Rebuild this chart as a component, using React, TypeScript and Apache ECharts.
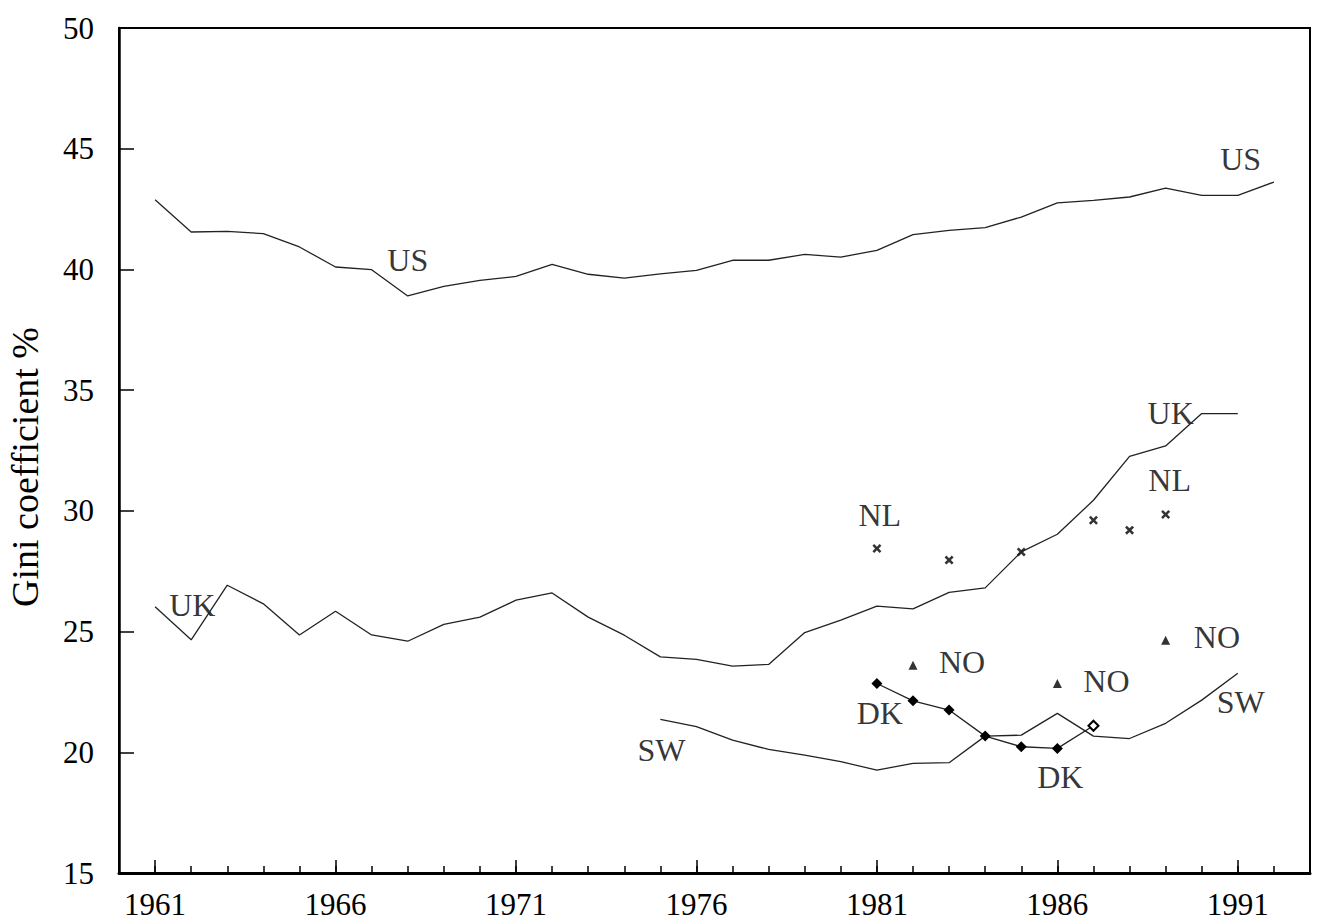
import React, { useEffect, useRef } from "react";
import * as echarts from "echarts";

const FONT = "Liberation Serif";

// US Gini, 1961–1992
const usStartYear = 1961;
const usValues = [42.89, 41.55, 41.58, 41.48, 40.93, 40.1, 39.99, 38.9, 39.3, 39.55, 39.71, 40.21, 39.8, 39.64, 39.82, 39.96, 40.38, 40.38, 40.62, 40.51, 40.79, 41.44, 41.62, 41.73, 42.17, 42.76, 42.86, 43.0, 43.37, 43.07, 43.07, 43.62];

// UK Gini, 1961–1991
const ukStartYear = 1961;
const ukValues = [26.03, 24.66, 26.92, 26.15, 24.86, 25.84, 24.86, 24.6, 25.3, 25.6, 26.3, 26.6, 25.6, 24.85, 23.95, 23.85, 23.57, 23.64, 24.96, 25.47, 26.05, 25.94, 26.62, 26.81, 28.3, 29.03, 30.44, 32.26, 32.69, 34.03, 34.03];

// Sweden, 1975–1991
const swStartYear = 1975;
const swValues = [21.36, 21.06, 20.5, 20.12, 19.88, 19.61, 19.26, 19.54, 19.57, 20.67, 20.71, 21.61, 20.67, 20.57, 21.2, 22.16, 23.27];

// Denmark, 1981–1987
const dkStartYear = 1981;
const dkValues = [22.85, 22.13, 21.75, 20.67, 20.23, 20.16, 21.1];

// Netherlands
const nlYears = [1981, 1983, 1985, 1987, 1988, 1989];
const nlValues = [28.44, 27.96, 28.3, 29.61, 29.2, 29.85];

// Norway
const noYears = [1982, 1986, 1989];
const noValues = [23.61, 22.85, 24.64];

// Text annotations (year, value)
const annotationTexts = ["US", "US", "UK", "UK", "NL", "NL", "NO", "NO", "NO", "DK", "DK", "SW", "SW"];
const annotationYears = [1968.0, 1991.08, 1962.03, 1989.14, 1981.08, 1989.11, 1983.36, 1987.36, 1990.42, 1981.08, 1986.08, 1975.03, 1991.08];
const annotationValues = [40.39, 44.57, 26.1, 34.05, 29.83, 31.28, 23.74, 22.95, 24.77, 21.62, 18.97, 20.09, 22.08];

// X axis categories (one per year, 1960–1993); labels shown every 5 years from 1961
const xYears = ["1960", "1961", "1962", "1963", "1964", "1965", "1966", "1967", "1968", "1969", "1970", "1971", "1972", "1973", "1974", "1975", "1976", "1977", "1978", "1979", "1980", "1981", "1982", "1983", "1984", "1985", "1986", "1987", "1988", "1989", "1990", "1991", "1992", "1993"];
const xTickLabels = ["1961", "1966", "1971", "1976", "1981", "1986", "1991"];

const yAxisTitle = "Gini coefficient %";

const series = (start: number, vals: number[]) => vals.map((v, i) => [start + i, v]);
const pairs = (xs: number[], vals: number[]) => xs.map((x, i) => [x, vals[i]]);

const X_SYMBOL = "path://M0,2 L2,0 L5,3 L8,0 L10,2 L7,5 L10,8 L8,10 L5,7 L2,10 L0,8 L3,5 Z";

export default function App() {
  const ref = useRef<HTMLDivElement>(null);
  useEffect(() => {
    if (!ref.current) return;
    const chart = echarts.init(ref.current, undefined, { renderer: "svg" });
    const lineStyle = { color: "#222", width: 1.3 };
    const isMajor = (i: number) => xTickLabels.indexOf(xYears[i]) >= 0;
    chart.setOption({
      animation: false,
      backgroundColor: "#fff",
      grid: { left: 119, right: 10, top: 28, bottom: 51, show: true, borderColor: "#000", borderWidth: 2, backgroundColor: "transparent" },
      graphic: [
        {
          type: "text", x: 25, y: 467, rotation: Math.PI / 2,
          style: { text: yAxisTitle, fontSize: 38, fontFamily: FONT, fill: "#000", textAlign: "center", textVerticalAlign: "middle" },
        },
      ],
      xAxis: [
        {
          type: "value", min: 1960, max: 1993, interval: 1,
          axisLine: { onZero: false, lineStyle: { color: "#000", width: 3 } },
          axisTick: { inside: true, length: 7, lineStyle: { color: "#000", width: 1.5 } },
          axisLabel: { show: false },
          splitLine: { show: false },
        },
        {
          type: "category", data: xYears, boundaryGap: false, position: "bottom",
          axisLine: { show: false, onZero: false },
          axisTick: { inside: true, length: 13, interval: (i: number) => isMajor(i), lineStyle: { color: "#000", width: 1.5 } },
          axisLabel: {
            interval: (i: number) => isMajor(i),
            fontSize: 31, fontFamily: FONT, color: "#000", margin: 16,
          },
          splitLine: { show: false },
        },
      ],
      yAxis: {
        type: "value", min: 15, max: 50, interval: 5,
        axisLine: { onZero: false, lineStyle: { color: "#000", width: 2.5 } },
        axisTick: { inside: true, length: 15, lineStyle: { color: "#000", width: 1.5 } },
        axisLabel: { fontSize: 31, fontFamily: FONT, color: "#000", margin: 25 },
        splitLine: { show: false },
      },
      series: [
        { name: "US", type: "line", xAxisIndex: 0, data: series(usStartYear, usValues), showSymbol: false, lineStyle },
        { name: "UK", type: "line", xAxisIndex: 0, data: series(ukStartYear, ukValues), showSymbol: false, lineStyle },
        { name: "SW", type: "line", xAxisIndex: 0, data: series(swStartYear, swValues), showSymbol: false, lineStyle },
        {
          name: "DK", type: "line", xAxisIndex: 0, lineStyle, symbol: "diamond", symbolSize: 11,
          itemStyle: { color: "#000" },
          data: series(dkStartYear, dkValues).map((p, i, arr) =>
            i === arr.length - 1
              ? { value: p, symbolSize: 10, itemStyle: { color: "#fff", borderColor: "#000", borderWidth: 2 } }
              : { value: p }
          ),
        },
        { name: "NL", type: "scatter", xAxisIndex: 0, data: pairs(nlYears, nlValues), symbol: X_SYMBOL, symbolSize: 9, itemStyle: { color: "#000" } },
        { name: "NO", type: "scatter", xAxisIndex: 0, data: pairs(noYears, noValues), symbol: "triangle", symbolSize: 9, itemStyle: { color: "#000" } },
        {
          name: "labels", type: "scatter", xAxisIndex: 0, silent: true, symbolSize: 1,
          itemStyle: { color: "transparent" },
          label: { show: true, position: "inside", formatter: "{b}", fontSize: 32, fontFamily: FONT, color: "#000" },
          data: annotationTexts.map((t, i) => ({ name: t, value: [annotationYears[i], annotationValues[i]] })),
        },
      ],
    });
    return () => chart.dispose();
  }, []);
  return (
    <div style={{ position: "fixed", left: 0, top: 0, width: 1320, height: 924, background: "#fff" }}>
      <div ref={ref} style={{ width: 1320, height: 924 }} />
    </div>
  );
}
